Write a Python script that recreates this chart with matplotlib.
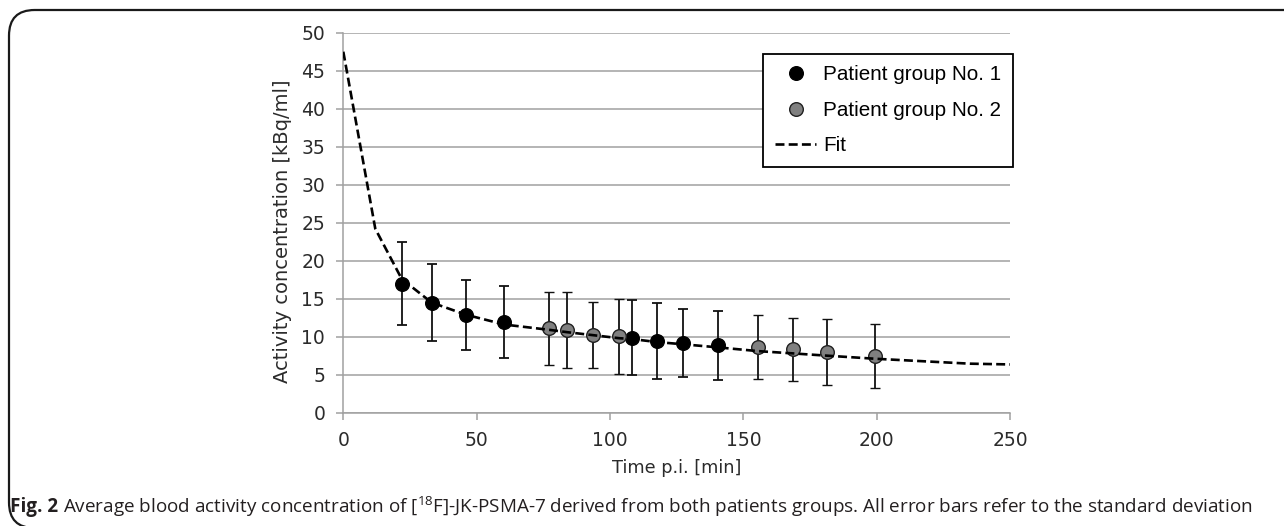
import matplotlib
matplotlib.use("Agg")
import matplotlib.pyplot as plt
from matplotlib.lines import Line2D
from matplotlib.patches import FancyBboxPatch

# ----------------------
# Data
# ----------------------
t_grp1 = [21.9, 33.1, 45.9, 60.4, 108.1, 117.5, 127.5, 140.4]
c_grp1 = [16.95, 14.45, 12.85, 11.95, 9.85, 9.4, 9.18, 8.85]
sd_grp1 = [5.45, 5.05, 4.65, 4.75, 4.95, 5.0, 4.5, 4.55]

t_grp2 = [77.3, 83.8, 93.7, 103.5, 155.6, 168.7, 181.5, 199.4]
c_grp2 = [11.1, 10.9, 10.25, 10.05, 8.65, 8.35, 7.95, 7.45]
sd_grp2 = [4.8, 5.0, 4.35, 4.95, 4.25, 4.15, 4.35, 4.25]

t_fit = [0, 12, 21.9, 33.1, 45.9, 60.4, 77.3, 83.8, 93.7, 103.5, 108.1, 117.5,
         127.5, 140.4, 155.6, 168.7, 181.5, 199.4, 235, 250]
c_fit = [47.5, 24.2, 17.6, 14.5, 12.9, 11.6, 10.9, 10.6, 10.2, 9.8, 9.7, 9.3,
         9.0, 8.6, 8.1, 7.8, 7.5, 7.1, 6.45, 6.35]

labels = ["Patient group No. 1", "Patient group No. 2", "Fit"]
caption_bold = "Fig. 2"
caption_text = ("Average blood activity concentration of [$^{18}$F]-JK-PSMA-7 derived "
                "from both patients groups. All error bars refer to the standard deviation")

W, H = 1284, 526
grid_col = "#a0a0a0"
text_col = "#2b2b2b"

plt.rcParams["mathtext.fontset"] = "custom"
plt.rcParams["mathtext.rm"] = "Open Sans"

# ----------------------
# Figure
# ----------------------
fig = plt.figure(figsize=(W / 100, H / 100), dpi=100)
ax = fig.add_axes([343.3 / W, 1 - 412.7 / H, (1010 - 343.3) / W, (412.7 - 32.7) / H])

ax.errorbar(t_grp1, c_grp1, yerr=sd_grp1, fmt="o", color="black", ms=9.8,
            mfc="black", mec="black", ecolor="#111111", elinewidth=1.3,
            capsize=3.6, capthick=1.3, zorder=3)
ax.errorbar(t_grp2, c_grp2, yerr=sd_grp2, fmt="o", ms=9.8, mfc="#808080",
            mec="#202020", mew=1.0, ecolor="#111111", elinewidth=1.3,
            capsize=3.6, capthick=1.3, zorder=3)
ax.plot(t_fit, c_fit, color="black", lw=1.9, ls=(0, (3.4, 1.6)), zorder=4)

ax.set_xlim(0, 250)
ax.set_ylim(0, 50)
ax.set_xticks(range(0, 251, 50))
ax.set_yticks(range(0, 51, 5))
ax.yaxis.grid(True, color=grid_col, lw=1.1)
ax.set_axisbelow(True)
for s in ["top", "right"]:
    ax.spines[s].set_visible(False)
for s in ["left", "bottom"]:
    ax.spines[s].set_color(grid_col)
    ax.spines[s].set_linewidth(1.1)
ax.tick_params(axis="both", colors=grid_col, length=5, width=1.1,
               labelcolor=text_col, labelsize=13.5)
ax.tick_params(axis="x", pad=8)
ax.tick_params(axis="y", pad=8)

ax.set_xlabel("Time p.i. [min]", fontsize=12.8, color=text_col)
ax.xaxis.set_label_coords(0.5, -0.122)
ax.set_ylabel("Activity concentration [kBq/ml]", fontsize=14, color=text_col)
ax.yaxis.set_label_coords(-0.077, 0.478)

handles = [
    Line2D([], [], ls="none", marker="o", ms=9.8, mfc="black", mec="black"),
    Line2D([], [], ls="none", marker="o", ms=9.8, mfc="#808080", mec="#202020"),
    Line2D([], [], color="black", lw=1.9, ls=(0, (3.4, 1.6))),
]
leg = ax.legend(handles, labels, loc="upper right", bbox_to_anchor=(1.0045, 0.944),
                borderaxespad=0, fancybox=False, framealpha=1, edgecolor="black",
                prop={"family": "Liberation Sans", "size": 14.9},
                handlelength=2.0, handletextpad=0.35, labelspacing=0.8,
                borderpad=0.55)
leg.get_frame().set_linewidth(1.3)

# ----------------------
# Caption and frame
# ----------------------
cap_y = 1 - 507 / H
t1 = fig.text(10 / W, cap_y, caption_bold, fontsize=13.6, fontweight="bold",
              family="Open Sans", va="center", ha="left", color="#231f20")
fig.canvas.draw()
bb = t1.get_window_extent()
fig.text((bb.x1 + 5) / W, cap_y, caption_text, fontsize=13.6, family="Open Sans",
         va="center", ha="left", color="#231f20")

frame = FancyBboxPatch((9 / W, 1 - 528 / H), 1.2, (528 - 10) / H,
                       boxstyle="round,pad=0,rounding_size=0.02",
                       transform=fig.transFigure, fill=False,
                       ec="#1a1a1a", lw=1.6, mutation_aspect=W / H)
fig.patches.append(frame)

fig.savefig("out.png", dpi=100)
